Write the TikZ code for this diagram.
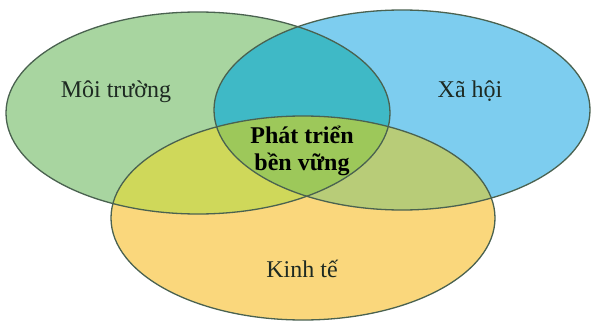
\documentclass[tikz,border=0pt]{standalone}
\usepackage{fontspec}
\setmainfont{Liberation Serif}
\definecolor{envfill}{HTML}{A8D5A0}
\definecolor{socfill}{HTML}{7DCDEF}
\definecolor{ecofill}{HTML}{FAD77C}
\definecolor{envsoc}{HTML}{3FB9C6}
\definecolor{envEco}{HTML}{CFD85A}
\definecolor{socEco}{HTML}{B8CC78}
\definecolor{allthree}{HTML}{9DC85A}
\definecolor{rim}{HTML}{4A6250}
\definecolor{ink}{HTML}{1E2A22}
\tikzset{
  rimline/.style={draw=rim, line width=1.3pt},
  label/.style={font=\fontsize{24}{28}\selectfont, text=ink, inner sep=0pt, anchor=base},
  core/.style={font=\fontsize{24}{27}\selectfont\bfseries, text=black, align=center, inner sep=0pt}
}
\newcommand{\envshape}{(198,113) ellipse [x radius=192pt, y radius=101pt]}
\newcommand{\socshape}{(402,110) ellipse [x radius=188pt, y radius=100pt]}
\newcommand{\ecoshape}{(303,218) ellipse [x radius=192pt, y radius=102pt]}
\begin{document}
\begin{tikzpicture}[x=1pt,y=-1pt]
  \fill[white] (0,0) rectangle (595,324);
  \useasboundingbox (0,0) rectangle (595,324);
  % base ellipses
  \fill[envfill] \envshape;
  \fill[socfill] \socshape;
  \fill[ecofill] \ecoshape;
  % pairwise overlaps
  \begin{scope}
    \clip \envshape;
    \fill[envsoc] \socshape;
    \fill[envEco] \ecoshape;
  \end{scope}
  \begin{scope}
    \clip \socshape;
    \fill[socEco] \ecoshape;
  \end{scope}
  % common core
  \begin{scope}
    \clip \envshape;
    \clip \socshape;
    \fill[allthree] \ecoshape;
  \end{scope}
  % outlines
  \draw[rimline] \envshape;
  \draw[rimline] \socshape;
  \draw[rimline] \ecoshape;
  % labels
  \node[label] (env) at (116,97) {Môi trường};
  \node[label] (soc) at (470,97) {Xã hội};
  \node[label] (eco) at (302,277) {Kinh tế};
  \node[core] (sd) at (302,151) {Phát triển\\bền vững};
\end{tikzpicture}
\end{document}
